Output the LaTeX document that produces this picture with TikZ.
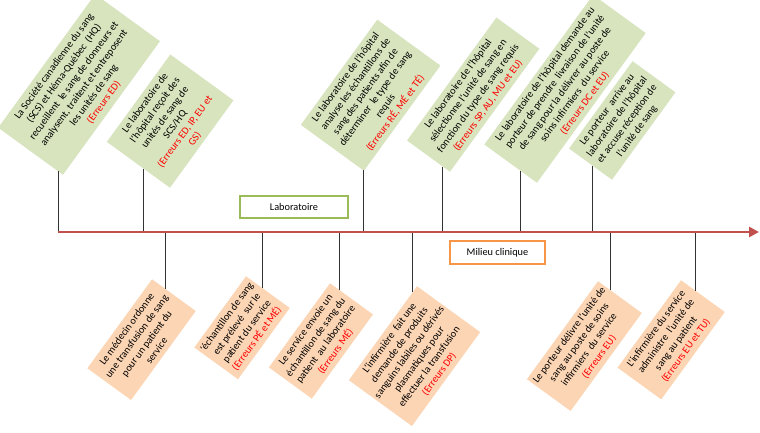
\documentclass[tikz,border=0pt]{standalone}
\usepackage{fontspec}
\setmainfont{Carlito}
\usetikzlibrary{calc,arrows.meta}
\definecolor{gfill}{RGB}{215,228,189}
\definecolor{ofill}{RGB}{252,213,180}
\definecolor{axisc}{RGB}{192,80,77}
\definecolor{gline}{RGB}{155,187,89}
\definecolor{oline}{RGB}{247,150,70}
\definecolor{errc}{RGB}{255,0,0}
\newcommand{\errtxt}[1]{\textcolor{errc}{#1}}
\begin{document}
\begin{tikzpicture}[x=1pt,y=-1pt,
  evbox/.style={rotate=54, align=center, inner sep=2.5pt, font=\fontsize{10.3}{12.3}\selectfont},
  upbox/.style={evbox, fill=gfill, anchor=south west},
  lowbox/.style={evbox, fill=ofill, anchor=north east},
  conn/.style={draw=black!80, line width=1pt},
  axisline/.style={draw=axisc, line width=2.6pt, -{Triangle[length=10pt,width=10pt]}},
  phase/.style={draw, line width=2pt, fill=white, font=\fontsize{10.3}{12}\selectfont, inner sep=0pt}
]
\useasboundingbox (0,0) rectangle (760,433);
\fill[white] (0,0) rectangle (760,433);
\clip (0,0) rectangle (760,433);

% upper (laboratory) boxes
\node[upbox, minimum width=165pt, minimum height=80pt] (u1) at (63,175)
 {La Société canadienne du sang\\(SCS) et Héma-Québec\ \ (HQ)\\recueillent\ \ le sang de donneurs et\\analysent, traitent et entreposent\\les unités de sang\\\errtxt{(Erreurs ED)}};
\node[upbox, minimum width=108pt, minimum height=78pt] (u2) at (170,188)
 {Le laboratoire de\\l'hôpital reçoit des\\unités de sang de\\SCS/HQ\\\errtxt{(Erreurs ED, IP, EU et}\\\errtxt{GS)}};
\node[upbox, minimum width=130pt, minimum height=78pt] (u3) at (364,171)
 {Le laboratoire de l'hôpital\\analyse les échantillons de\\sang des patients afin de\\déterminer\ \ le type de sang\\requis\\\errtxt{(Erreurs RÉ, MÉ et TÉ)}};
\node[upbox, minimum width=152pt, minimum height=53pt] (u4) at (450,172)
 {Le laboratoire de l'hôpital\\sélectionne l'unité de sang en\\fonction du type de sang requis\\\errtxt{(Erreurs SP, AU, MU et EU)}};
\node[upbox, minimum width=185pt, minimum height=65pt] (u5) at (537,183)
 {Le laboratoire de l'hôpital demande au\\porteur de prendre\ \ livraison de l'unité\\de sang pour la délivrer au poste de\\soins infirmiers\ \ du service\\\errtxt{(Erreurs DC et EU)}};
\node[upbox, minimum width=108pt, minimum height=53pt] (u6) at (612,180)
 {Le porteur\ \ arrive au\\laboratoire de l'hôpital\\et accuse réception de\\l'unité de sang};

% lower (clinical) boxes
\node[lowbox, minimum width=110pt, minimum height=54pt] (l1) at (152,279)
 {Le médecin ordonne\\une transfusion de sang\\pour un patient du\\service};
\node[lowbox, minimum width=88pt, minimum height=54pt] (l2) at (246,276)
 {’échantillon de sang\\est prélevé\ \ sur le\\patient du service\\\errtxt{(Erreurs PÉ et MÉ)}};
\node[lowbox, minimum width=104pt, minimum height=53pt] (l3) at (330,283)
 {Le service envoie un\\échantillon de sang du\\patient\ \ au laboratoire\\\errtxt{(Erreurs MÉ)}};
\node[lowbox, minimum width=113pt, minimum height=78pt] (l4) at (417,286)
 {L'infirmière\ \ fait une\\demande de produits\\sanguins labiles ou dérivés\\plasmatiques pour\\effectuer la transfusion\\\errtxt{(Erreurs DP)}};
\node[lowbox, minimum width=118pt, minimum height=54pt] (l5) at (598,281)
 {Le porteur délivre l'unité de\\sang au poste de soins\\infirmiers\ \ du service\\\errtxt{(Erreurs EU)}};
\node[lowbox, minimum width=108pt, minimum height=54pt] (l6) at (681,280)
 {L'infirmière du service\\administre\ \ l'unité de\\sang au patient\\\errtxt{(Erreurs EU et TU)}};

% timeline ends
\coordinate (axL) at (58,232);
\coordinate (axR) at (759,232);

% connector attachment points
\coordinate (cu1) at ($(u1.south west)!6pt!(u1.north west)$);
\coordinate (cu2) at ($(u2.south west)!33pt!(u2.north west)$);
\coordinate (cu3) at ($(u3.south west)!1pt!(u3.north west)$);
\coordinate (cu4) at ($(u4.south west)!9pt!(u4.north west)$);
\coordinate (cu5) at ($(u5.south west)!20pt!(u5.north west)$);
\coordinate (cu6) at ($(u6.south west)!23.5pt!(u6.north west)$);
\coordinate (cl1) at ($(l1.north east)!17pt!(l1.south east)$);
\coordinate (cl2) at ($(l2.north east)!20pt!(l2.south east)$);
\coordinate (cl3) at ($(l3.north east)!12pt!(l3.south east)$);
\coordinate (cl4) at ($(l4.north east)!8pt!(l4.north west)$);
\coordinate (cl5) at ($(l5.north east)!16pt!(l5.south east)$);
\coordinate (cl6) at ($(l6.north east)!18pt!(l6.south east)$);

\foreach \c in {cu1,cu2,cu3,cu4,cu5,cu6,cl1,cl2,cl3,cl4,cl5,cl6}
  \draw[conn] (\c) -- (\c |- axL);

\draw[axisline] (axL) -- (axR);

\node[phase, draw=gline, minimum width=108pt, minimum height=22pt] (lab) at (294,207) {Laboratoire};
\node[phase, draw=oline, minimum width=95pt, minimum height=23pt] (clin) at (497.5,252.5) {Milieu clinique};
\end{tikzpicture}
\end{document}
